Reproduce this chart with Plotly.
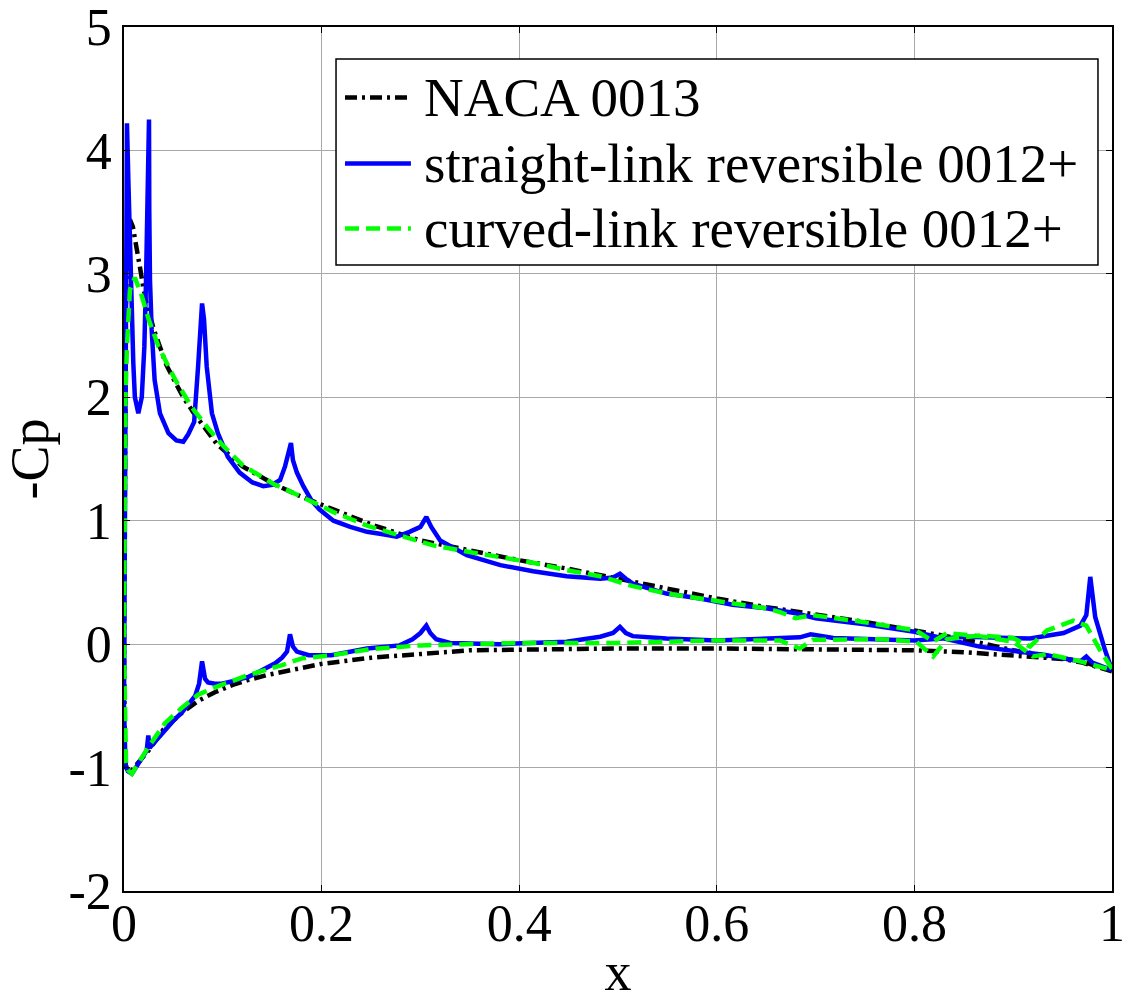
import plotly.graph_objects as go

# ---------------- data ----------------
# NACA 0013 : upper surface (LE -> TE)
naca_up_x = [0.001, 0.002, 0.004, 0.006, 0.009, 0.013, 0.016, 0.020, 0.023, 0.031, 0.043, 0.052,
             0.060, 0.070, 0.080, 0.094, 0.120, 0.151, 0.178, 0.200, 0.250, 0.300, 0.350, 0.400,
             0.450, 0.500, 0.550, 0.600, 0.650, 0.700, 0.750, 0.800, 0.850, 0.900, 0.950, 0.970, 1.000]
naca_up_y = [1.5, 2.8, 3.35, 3.44, 3.38, 3.22, 3.06, 2.87, 2.75, 2.53, 2.26, 2.12,
             2.00, 1.88, 1.77, 1.62, 1.44, 1.30, 1.20, 1.13, 0.97, 0.84, 0.76, 0.68,
             0.61, 0.53, 0.45, 0.37, 0.30, 0.24, 0.18, 0.11, 0.04, -0.05, -0.11, -0.14, -0.22]
# NACA 0013 : lower surface (LE -> TE)
naca_lo_x = [0.0, 0.0008, 0.002, 0.006, 0.015, 0.025, 0.040, 0.058, 0.075, 0.092, 0.110, 0.126,
             0.145, 0.160, 0.180, 0.200, 0.250, 0.300, 0.350, 0.400, 0.500, 0.600, 0.700,
             0.800, 0.850, 0.900, 0.950, 0.970, 1.000]
naca_lo_y = [0.0, -0.9, -1.0, -1.04, -0.96, -0.86, -0.69, -0.56, -0.46, -0.39, -0.33, -0.29,
             -0.25, -0.22, -0.19, -0.16, -0.11, -0.08, -0.05, -0.04, -0.035, -0.035, -0.04,
             -0.05, -0.065, -0.09, -0.12, -0.15, -0.22]

# straight-link reversible 0012+ : upper surface
straight_up_x = [0.001, 0.002, 0.003, 0.0044, 0.006, 0.0078, 0.0094, 0.011, 0.0145, 0.018, 0.0206,
                 0.0223, 0.0233, 0.0253, 0.0256, 0.0263, 0.028, 0.031, 0.0364, 0.045, 0.053, 0.060,
                 0.065, 0.071, 0.075, 0.078, 0.079, 0.081, 0.0837, 0.089, 0.095, 0.105, 0.117,
                 0.130, 0.141, 0.150, 0.158, 0.163, 0.166, 0.169, 0.171, 0.175, 0.1815, 0.190,
                 0.198, 0.212, 0.229, 0.246, 0.262, 0.276, 0.289, 0.300, 0.306, 0.311, 0.320,
                 0.347, 0.381, 0.414, 0.448, 0.482, 0.495, 0.502, 0.508, 0.515, 0.549, 0.583,
                 0.616, 0.650, 0.677, 0.700, 0.750, 0.800, 0.866, 0.934, 0.968, 0.974, 0.980, 1.000]
straight_up_y = [1.0, 3.0, 4.22, 3.76, 3.22, 2.68, 2.28, 2.0, 1.87, 2.0, 2.41,
                 2.95, 3.5, 4.25, 3.5, 2.95, 2.55, 2.14, 1.87, 1.71, 1.65, 1.64,
                 1.70, 1.80, 2.25, 2.63, 2.76, 2.63, 2.25, 1.87, 1.71, 1.52, 1.39,
                 1.31, 1.28, 1.29, 1.33, 1.44, 1.55, 1.63, 1.49, 1.39, 1.28, 1.16,
                 1.09, 1.00, 0.95, 0.91, 0.89, 0.87, 0.91, 0.95, 1.03, 0.95, 0.84,
                 0.72, 0.64, 0.59, 0.55, 0.53, 0.54, 0.57, 0.53, 0.49, 0.41, 0.37,
                 0.32, 0.29, 0.255, 0.21, 0.16, 0.10, -0.02, -0.09, -0.14, -0.10, -0.15, -0.21]
# straight-link reversible 0012+ : lower surface
straight_lo_x = [0.0, 0.0015, 0.004, 0.008, 0.015, 0.020, 0.023, 0.0246, 0.026, 0.028, 0.035,
                 0.0415, 0.050, 0.058, 0.066, 0.072, 0.076, 0.079, 0.082, 0.085, 0.092, 0.099,
                 0.110, 0.126, 0.140, 0.153, 0.160, 0.165, 0.168, 0.171, 0.175, 0.187, 0.210,
                 0.246, 0.279, 0.292, 0.300, 0.306, 0.310, 0.316, 0.330, 0.380, 0.448, 0.482,
                 0.495, 0.502, 0.508, 0.515, 0.549, 0.600, 0.684, 0.695, 0.718, 0.800, 0.853,
                 0.917, 0.951, 0.968, 0.974, 0.978, 0.983, 0.993, 1.000]
straight_lo_y = [-0.5, -0.97, -1.03, -1.05, -0.97, -0.90, -0.86, -0.74, -0.84, -0.82, -0.76,
                 -0.70, -0.62, -0.56, -0.48, -0.42, -0.32, -0.14, -0.28, -0.31, -0.32, -0.32,
                 -0.30, -0.265, -0.21, -0.155, -0.11, -0.06, 0.08, -0.02, -0.06, -0.09, -0.09,
                 -0.035, -0.01, 0.04, 0.09, 0.15, 0.09, 0.04, 0.01, 0.0, 0.02, 0.06,
                 0.09, 0.14, 0.09, 0.065, 0.045, 0.03, 0.055, 0.08, 0.05, 0.03, 0.06,
                 0.045, 0.09, 0.15, 0.235, 0.545, 0.22, -0.05, -0.21]

# curved-link reversible 0012+ : upper surface
curved_up_x = [0.0005, 0.0015, 0.003, 0.006, 0.011, 0.018, 0.025, 0.035, 0.052, 0.0685, 0.085,
               0.100, 0.120, 0.151, 0.178, 0.200, 0.212, 0.246, 0.279, 0.313, 0.347, 0.381,
               0.414, 0.448, 0.482, 0.515, 0.549, 0.583, 0.616, 0.650, 0.664, 0.680, 0.697,
               0.748, 0.802, 0.819, 0.833, 0.866, 0.900, 0.920, 0.935, 0.968, 1.000]
curved_up_y = [1.0, 2.0, 2.41, 2.87, 2.97, 2.82, 2.63, 2.41, 2.14, 1.92, 1.75,
               1.61, 1.45, 1.30, 1.20, 1.12, 1.07, 0.96, 0.88, 0.80, 0.75, 0.70,
               0.66, 0.60, 0.55, 0.47, 0.41, 0.37, 0.33, 0.29, 0.26, 0.21, 0.235,
               0.18, 0.11, 0.02, 0.09, 0.065, 0.02, -0.10, -0.08, -0.14, -0.21]
# curved-link reversible 0012+ : lower surface
curved_lo_x = [0.0, 0.002, 0.004, 0.008, 0.015, 0.025, 0.0415, 0.058, 0.075, 0.092, 0.126,
               0.160, 0.180, 0.210, 0.250, 0.300, 0.400, 0.500, 0.600, 0.664, 0.684, 0.697,
               0.765, 0.802, 0.819, 0.833, 0.866, 0.900, 0.917, 0.934, 0.961, 0.974, 0.988, 1.000]
curved_lo_y = [0.0, -0.95, -1.02, -1.05, -0.97, -0.83, -0.64, -0.52, -0.41, -0.35, -0.25,
               -0.17, -0.115, -0.09, -0.04, -0.01, 0.01, 0.01, 0.03, 0.03, -0.035, 0.035,
               0.04, 0.02, -0.10, 0.04, 0.07, 0.05, -0.02, 0.11, 0.19, 0.15, -0.05, -0.20]

series_names = ["NACA 0013", "straight-link reversible 0012+", "curved-link reversible 0012+"]

x_tickvals = [0, 0.2, 0.4, 0.6, 0.8, 1]
x_ticktext = ["0", "0.2", "0.4", "0.6", "0.8", "1"]
y_tickvals = [-2, -1, 0, 1, 2, 3, 4, 5]
y_ticktext = ["-2", "-1", "0", "1", "2", "3", "4", "5"]

# ---------------- styles ----------------
FONT = "Liberation Serif"
LW = 4.5
styles = [
    dict(color="black", width=LW, dash="12px,5px,3px,5px"),
    dict(color="#0000ff", width=LW),
    dict(color="#00ff00", width=LW, dash="14px,7px"),
]


def loop(lo_x, lo_y, up_x, up_y):
    """trailing edge -> lower surface -> leading edge -> upper surface -> trailing edge"""
    return lo_x[::-1] + up_x, lo_y[::-1] + up_y


fig = go.Figure()

curves = [
    loop(naca_lo_x, naca_lo_y, naca_up_x, naca_up_y),
    loop(straight_lo_x, straight_lo_y, straight_up_x, straight_up_y),
    loop(curved_lo_x, curved_lo_y, curved_up_x, curved_up_y),
]
for (cx, cy), name, st in zip(curves, series_names, styles):
    fig.add_trace(go.Scatter(x=cx, y=cy, mode="lines", name=name, line=st, showlegend=False))

axis_common = dict(
    showgrid=True, gridcolor="#a8a8a8", gridwidth=1,
    showline=True, linecolor="black", linewidth=1.5, mirror="ticks",
    ticks="inside", ticklen=6, tickcolor="black", tickwidth=1,
    zeroline=False, ticklabeloverflow="allow",
    tickfont=dict(family=FONT, size=52, color="black"),
)

fig.update_xaxes(range=[0, 1], tickvals=x_tickvals, ticktext=x_ticktext,
                 ticklabelstandoff=-14,
                 title=dict(text="x", font=dict(family=FONT, size=54, color="black"), standoff=34),
                 **axis_common)
fig.update_yaxes(range=[-2, 5], tickvals=y_tickvals, ticktext=y_ticktext,
                 title=dict(text="-Cp", font=dict(family=FONT, size=54, color="black"), standoff=8),
                 **axis_common)

# ---------------- legend box (MATLAB-like, drawn in paper coordinates) ----------------
LEG_X0, LEG_X1, LEG_Y0, LEG_Y1 = 0.2146, 0.9858, 0.7245, 0.963
SAMPLE_X0, SAMPLE_X1, TEXT_X = 0.2237, 0.2904, 0.3016
ROW_Y = [0.9184, 0.8420, 0.7668]

shapes = [dict(type="rect", xref="paper", yref="paper", x0=LEG_X0, x1=LEG_X1, y0=LEG_Y0, y1=LEG_Y1,
               fillcolor="white", line=dict(color="black", width=1.5), layer="above")]
annotations = []
for name, st, ry in zip(series_names, styles, ROW_Y):
    shapes.append(dict(type="line", xref="paper", yref="paper", x0=SAMPLE_X0, x1=SAMPLE_X1,
                       y0=ry, y1=ry, line=st, layer="above"))
    annotations.append(dict(xref="paper", yref="paper", x=TEXT_X, y=ry, xanchor="left",
                            yanchor="middle", text=name, showarrow=False,
                            font=dict(family=FONT, size=55, color="black")))

fig.update_layout(
    width=1127, height=1002,
    margin=dict(l=124, r=15, t=27, b=111, autoexpand=False),
    paper_bgcolor="white", plot_bgcolor="white",
    font=dict(family=FONT, color="black"),
    showlegend=False,
    shapes=shapes,
    annotations=annotations,
)

fig.write_html("out.html")
